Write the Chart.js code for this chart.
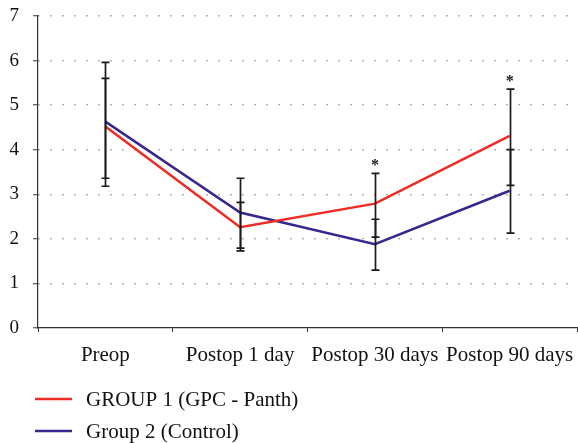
<!DOCTYPE html>
<html>
<head>
<meta charset="utf-8">
<script src="https://cdn.jsdelivr.net/npm/chart.js@4.4.1/dist/chart.umd.min.js"></script>
<style>
  html, body { margin: 0; padding: 0; background: #fff; }
  #wrap { width: 578px; height: 443px; }
</style>
</head>
<body>
<div id="wrap"><canvas id="chart" width="578" height="443"></canvas></div>
<script>
// DATA
const categories = ['Preop', 'Postop 1 day', 'Postop 30 days', 'Postop 90 days'];
const yTicks = [0, 1, 2, 3, 4, 5, 6, 7];

const group1 = [4.52, 2.26, 2.79, 4.31];
const group1Low = [3.36, 1.73, 2.04, 3.20];
const group1High = [5.60, 2.82, 3.47, 5.36];

const group2 = [4.63, 2.59, 1.88, 3.08];
const group2Low = [3.18, 1.79, 1.30, 2.13];
const group2High = [5.96, 3.36, 2.44, 4.00];

const significant = [false, false, true, true];

const RED = '#ee2b24';
const BLUE = '#36288f';
const FONT = "'Liberation Serif', 'DejaVu Serif', serif";

// error bars + stars, drawn through the scales
const errorBars = {
  id: 'errorBars',
  afterDatasetsDraw(chart) {
    const { ctx, scales: { x, y } } = chart;
    const bars = [[group1Low, group1High], [group2Low, group2High]];
    ctx.save();
    ctx.strokeStyle = '#1a1a1a';
    ctx.lineWidth = 1.7;
    bars.forEach(([lo, hi]) => {
      lo.forEach((v, i) => {
        const px = Math.round(x.getPixelForValue(i)) + 0.5;
        const y1 = y.getPixelForValue(v);
        const y2 = y.getPixelForValue(hi[i]);
        ctx.beginPath();
        ctx.moveTo(px, y1); ctx.lineTo(px, y2);
        ctx.moveTo(px - 4, y1); ctx.lineTo(px + 4, y1);
        ctx.moveTo(px - 4, y2); ctx.lineTo(px + 4, y2);
        ctx.stroke();
      });
    });
    ctx.fillStyle = '#1a1a1a';
    ctx.font = 'bold 16px ' + FONT;
    ctx.textAlign = 'center';
    ctx.textBaseline = 'alphabetic';
    significant.forEach((s, i) => {
      if (!s) return;
      const top = Math.max(group1High[i], group2High[i]);
      const px = x.getPixelForValue(i);
      const py = y.getPixelForValue(top) - 11 + 7.5;
      ctx.fillText('*', px, py);
    });
    ctx.restore();
  }
};

// legend at the bottom, one item per row
const legendRows = {
  id: 'legendRows',
  afterDraw(chart) {
    const { ctx } = chart;
    ctx.save();
    ctx.font = '21px ' + FONT;
    ctx.textBaseline = 'middle';
    ctx.textAlign = 'left';
    chart.data.datasets.forEach((ds, i) => {
      const yy = 399 + i * 32;
      ctx.strokeStyle = ds.borderColor;
      ctx.lineWidth = 2.5;
      ctx.beginPath();
      ctx.moveTo(35, yy); ctx.lineTo(72, yy);
      ctx.stroke();
      ctx.fillStyle = '#111';
      ctx.fillText(ds.label, 86, yy + 1);
    });
    ctx.restore();
  }
};

new Chart(document.getElementById('chart'), {
  type: 'line',
  data: {
    labels: categories,
    datasets: [
      { label: 'GROUP 1 (GPC - Panth)', data: group1, borderColor: RED, borderWidth: 2.5, pointRadius: 0, tension: 0 },
      { label: 'Group 2 (Control)', data: group2, borderColor: BLUE, borderWidth: 2.5, pointRadius: 0, tension: 0 }
    ]
  },
  options: {
    responsive: false,
    animation: false,
    layout: { padding: { top: 16, right: 1, bottom: 0, left: 0 } },
    plugins: { legend: { display: false }, tooltip: { enabled: false } },
    scales: {
      x: {
        offset: true,
        afterFit: s => { s.height = 115; s.paddingLeft = 0; s.paddingRight = 0; },
        grid: { offset: true, drawOnChartArea: false, tickLength: 4, tickColor: '#333', tickWidth: 1 },
        border: { color: '#333', width: 1.2 },
        ticks: { color: '#111', font: { family: FONT, size: 21 }, padding: 11, maxRotation: 0 }
      },
      y: {
        min: 0, max: 7,
        afterFit: s => { s.width = 38; s.paddingTop = 0; s.paddingBottom = 0; },
        afterBuildTicks: s => { s.ticks = yTicks.map(v => ({ value: v })); },
        grid: {
          color: ctx => ctx.tick && ctx.tick.value === 0 ? 'rgba(0,0,0,0)' : '#9a9a9a',
          lineWidth: 1.5, tickLength: 5, tickColor: '#333', tickWidth: 1
        },
        border: { color: '#333', width: 1.2, dash: [1.5, 10.5] },
        ticks: { color: '#111', font: { family: FONT, size: 19 }, padding: 14 }
      }
    }
  },
  plugins: [errorBars, legendRows]
});
</script>
</body>
</html>
